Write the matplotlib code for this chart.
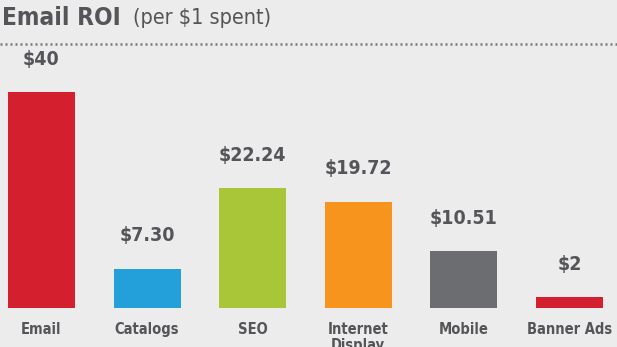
import matplotlib.pyplot as plt
from matplotlib.lines import Line2D

categories = ['Email', 'Catalogs', 'SEO', 'Internet\nDisplay', 'Mobile', 'Banner Ads']
roi = [40, 7.30, 22.24, 19.72, 10.51, 2]
value_labels = ['$40', '$7.30', '$22.24', '$19.72', '$10.51', '$2']
colors = ['#d4202e', '#239fd9', '#a8c637', '#f7941e', '#6c6d70', '#d4202e']

bg = '#ececec'
txt = '#555559'

fig = plt.figure(figsize=(6.17, 3.47), dpi=100, facecolor=bg)
ax = fig.add_axes([0, 39 / 347, 1, 259 / 347])
ax.set_facecolor(bg)

x = list(range(len(categories)))
ax.bar(x, roi, width=0.635, color=colors)
for xi, v, lab in zip(x, roi, value_labels):
    ax.text(xi, v + 4.3, lab, ha='center', va='bottom', fontsize=14,
            fontweight='bold', color=txt, fontstretch='condensed')

ax.set_xlim(-0.393, 5.45)
ax.set_ylim(0, 48)
ax.set_xticks(x)
ax.set_xticklabels(categories, fontsize=10.5, color=txt, va='top', linespacing=1.1,
                   fontweight='bold', fontstretch='condensed')
ax.tick_params(axis='x', length=0, pad=10)
ax.set_yticks([])
for s in ax.spines.values():
    s.set_visible(False)

fig.text(0.003, 1 - 18 / 347, 'Email ROI', fontsize=17.5, fontweight='bold',
         color=txt, va='center', ha='left', fontstretch='condensed')
fig.text(0.215, 1 - 18 / 347, '(per $1 spent)', fontsize=15.5, color=txt,
         va='center', ha='left', fontstretch='condensed')
fig.add_artist(Line2D([0, 1], [1 - 44 / 347] * 2, transform=fig.transFigure,
                      color='#7a7a7a', linestyle=(0, (0.8, 1.2)), linewidth=1.8))

fig.savefig('out.png', dpi=100, facecolor=bg)
